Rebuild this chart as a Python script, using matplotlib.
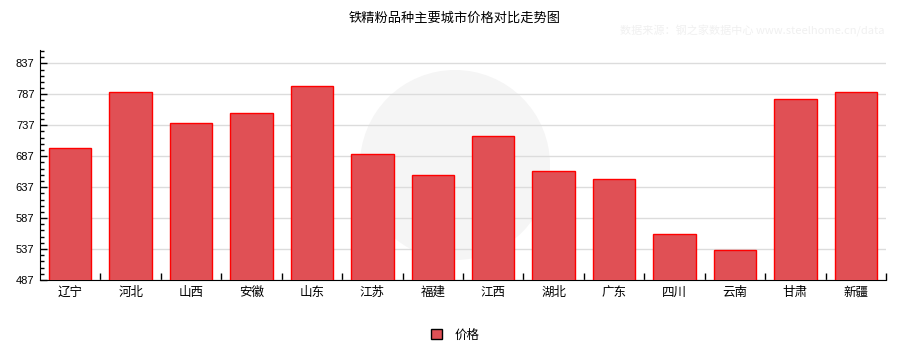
import matplotlib
matplotlib.use("Agg")
import matplotlib.pyplot as plt
from matplotlib.ticker import FixedLocator
from matplotlib.patches import Circle, Patch

plt.rcParams['font.family'] = ['Noto Sans CJK SC', 'DejaVu Sans']

cities = ["辽宁", "河北", "山西", "安徽", "山东", "江苏", "福建", "江西", "湖北", "广东", "四川", "云南", "甘肃", "新疆"]
prices = [701, 790, 740, 757, 801, 690, 657, 720, 663, 650, 561, 535, 780, 790]
yticks = [487, 537, 587, 637, 687, 737, 787, 837]
title = "铁精粉品种主要城市价格对比走势图"
series_name = "价格"
source = "数据来源：钢之家数据中心 www.steelhome.cn/data"

fig = plt.figure(figsize=(9.15, 3.6), dpi=100)
ax = fig.add_axes([40/915, 1-280/360, (886-40)/915, (280-50)/360])

# faint watermark logo behind the plot
wm = Circle((4.55, 3.6 - 1.65), 0.95, transform=fig.dpi_scale_trans,
            facecolor='#f5f5f5', edgecolor='none', zorder=0.1, clip_on=False)
ax.add_patch(wm)

x = list(range(len(cities)))
ax.bar(x, prices, width=0.7, color='#E05055', edgecolor='#FF0000', linewidth=1.0,
       zorder=3, label=series_name)

ax.set_xlim(-0.5, len(cities) - 0.5)
ax.set_ylim(487, 858.5)
ax.set_yticks(yticks)
ax.yaxis.set_minor_locator(FixedLocator([v for v in range(497, 858, 10) if (v - 487) % 50 != 0]))
ax.set_xticks(x)
ax.set_xticklabels(cities, fontsize=9)
ax.xaxis.set_minor_locator(FixedLocator([i + 0.5 for i in range(len(cities))]))
ax.tick_params(axis='x', which='major', length=0, pad=4)
ax.tick_params(axis='x', which='minor', direction='in', length=5, width=1, color='black')
ax.tick_params(axis='y', which='major', direction='in', length=5, width=1, labelsize=8, pad=4)
ax.tick_params(axis='y', which='minor', direction='in', length=3, width=1)
for lbl in ax.get_yticklabels():
    lbl.set_family(['Liberation Sans', 'DejaVu Sans'])

ax.grid(axis='y', which='major', color='#dcdcdc', linewidth=1)
ax.set_axisbelow(True)
for s in ['top', 'right']:
    ax.spines[s].set_visible(False)
ax.spines['left'].set_color('black')
ax.spines['bottom'].set_color('black')
ax.patch.set_alpha(0)

fig.text(455/915, 1-18/360, title, ha='center', va='center', fontsize=9.5)
fig.text(752/915, 1-31/360, source, ha='center', va='center', fontsize=8, color='#f0f0f0')

fig.legend([Patch(facecolor='#E05055', edgecolor='black', linewidth=1)], [series_name],
           loc='center', bbox_to_anchor=(455/915, 1-335/360), frameon=False,
           fontsize=9, handlelength=0.9, handleheight=0.9, handletextpad=1.0)

fig.savefig("out.png", dpi=100)
